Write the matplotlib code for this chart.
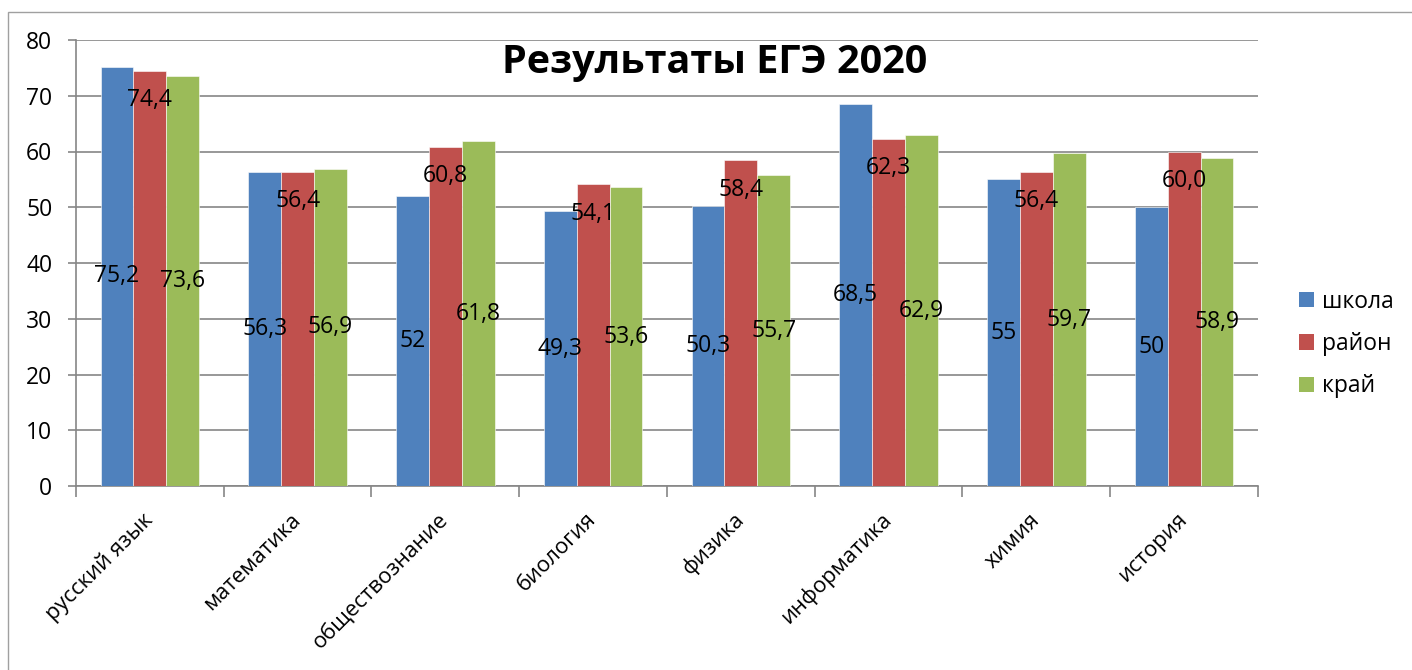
import matplotlib
matplotlib.use("Agg")
import matplotlib.pyplot as plt
import numpy as np
from matplotlib.patches import Rectangle, Patch

categories = ["русский язык", "математика", "обществознание", "биология",
              "физика", "информатика", "химия", "история"]
school = [75.2, 56.3, 52, 49.3, 50.3, 68.5, 55, 50]
district = [74.4, 56.4, 60.8, 54.1, 58.4, 62.3, 56.4, 60.0]
region = [73.6, 56.9, 61.8, 53.6, 55.7, 62.9, 59.7, 58.9]
series_names = ["школа", "район", "край"]
colors = ["#4F81BD", "#C0504D", "#9BBB59"]
yticks = [0, 10, 20, 30, 40, 50, 60, 70, 80]
title = "Результаты ЕГЭ 2020"

plt.rcParams['font.family'] = ['Open Sans', 'DejaVu Sans']

W, H = 1412, 670
fig = plt.figure(figsize=(W / 100, H / 100), dpi=100)
ax = fig.add_axes([76 / W, 1 - 486 / H, (1258 - 76) / W, (486 - 40) / H])

x = np.arange(len(categories))
bw = 1 / 4.5
offsets = [-bw, 0, bw]
data = [school, district, region]
for i, (vals, c) in enumerate(zip(data, colors)):
    ax.bar(x + offsets[i], vals, width=bw, color=c, edgecolor='white', linewidth=0.4, zorder=3)

def fmt_general(v):
    return ('{:g}'.format(v)).replace('.', ',')

def fmt_fixed(v):
    return '{:.1f}'.format(v).replace('.', ',')

fs_lab = 16.5
for xi, v in zip(x, school):
    ax.text(xi + offsets[0], v / 2, fmt_general(v), ha='center', va='center', fontsize=fs_lab, zorder=5)
for xi, v in zip(x, district):
    ax.annotate(fmt_fixed(v), (xi + offsets[1], v), xytext=(0, -21), textcoords='offset points',
                ha='center', va='center', fontsize=fs_lab, zorder=5)
for xi, v in zip(x, region):
    ax.text(xi + offsets[2], v / 2, fmt_fixed(v), ha='center', va='center', fontsize=fs_lab, zorder=5)

ax.set_xlim(-0.5, len(categories) - 0.5)
ax.set_ylim(0, 80)
ax.set_yticks(yticks)
ax.set_yticklabels([str(t) for t in yticks], fontsize=16.5)
ax.yaxis.grid(True, color='#868686', linewidth=1.2, zorder=0)
ax.set_axisbelow(True)

ax.set_xticks(np.arange(len(categories) + 1) - 0.5)
ax.set_xticklabels([])
ax.set_xticks(x, minor=True)
ax.set_xticklabels(categories, minor=True, rotation=45, ha='right', va='center',
                   rotation_mode='anchor', fontsize=15.8)
ax.tick_params(axis='x', which='minor', length=0, pad=22)
ax.tick_params(axis='x', which='major', length=8, color='#868686', width=1.2)
ax.tick_params(axis='y', length=6, color='#868686', width=1.2, pad=11)

for s in ['top', 'right']:
    ax.spines[s].set_visible(False)
for s in ['left', 'bottom']:
    ax.spines[s].set_color('#868686')
    ax.spines[s].set_linewidth(1.2)

fig.text(715 / W, 1 - 63 / H, title, ha='center', va='center', fontsize=28.5, fontweight='bold')

handles = [Patch(facecolor=c, edgecolor='none') for c in colors]
fig.legend(handles, series_names, loc='center left', bbox_to_anchor=(1278 / W, 1 - 344 / H),
           frameon=False, fontsize=16.5, handlelength=0.65, handleheight=0.65, handletextpad=0.35,
           labelspacing=0.8)

fig.patches.append(Rectangle((8 / W, -0.1), 1.2, 1 - 12 / H + 0.1, transform=fig.transFigure,
                             fill=False, edgecolor='#A0A0A0', linewidth=1, figure=fig))

fig.savefig("out.png", dpi=100)
